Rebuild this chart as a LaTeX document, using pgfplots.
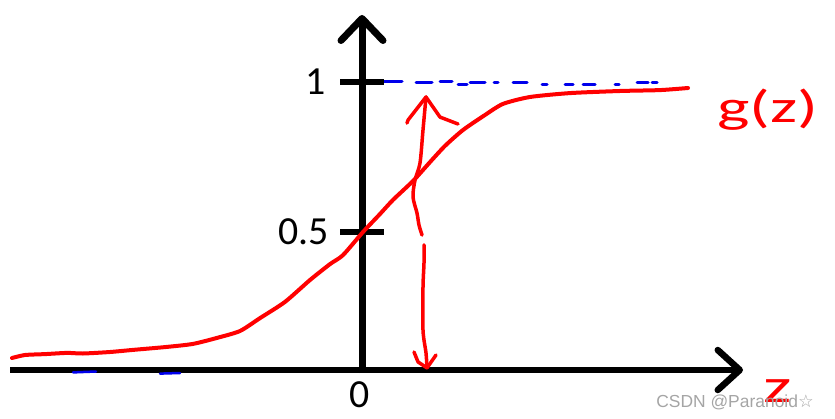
\documentclass[border=0pt]{standalone}
\usepackage{pgfplots}
\pgfplotsset{compat=1.18}
\usetikzlibrary{arrows.meta}
\usepackage{fontspec}
\setmainfont{Carlito}
\newfontfamily\wm{Liberation Sans}
\newfontfamily\sym{DejaVu Sans}
\definecolor{wmgray}{RGB}{165,165,165}
\definecolor{penred}{RGB}{255,0,0}
\definecolor{penblue}{RGB}{0,0,235}
\begin{document}
\begin{tikzpicture}
\begin{axis}[width=835bp, height=419bp, scale only axis,
  xmin=-7.24, xmax=9.46, ymin=-0.1233, ymax=1.2733,
  hide axis, clip=false]
\path (rel axis cs:0,0) rectangle (rel axis cs:1,1);
% blue dashes near y = 1
\addplot[penblue, line width=3bp, line cap=round, unbounded coords=jump] coordinates {
(0.44,1.0)(0.80,1.0)(0.9,nan)
(1.08,0.997)(1.40,0.997)(1.5,nan)
(1.56,1.0)(1.80,1.0)(1.85,nan)
(1.92,0.993)(2.10,0.993)(2.12,nan)
(2.16,0.997)(2.46,0.997)(2.5,nan)
(2.64,0.997)(2.72,0.997)(2.8,nan)
(3.02,0.997)(3.30,0.997)(3.4,nan)
(3.60,0.99)(3.70,0.99)(3.8,nan)
(4.06,0.993)(4.22,0.993)(4.3,nan)
(4.42,0.993)(4.66,0.993)(4.8,nan)
(5.06,0.993)(5.14,0.993)(5.3,nan)
(5.50,0.997)(5.72,0.997)(5.75,nan)
(5.80,0.997)(5.90,0.997)
};
% axes
\addplot[black, line width=6.5bp, line cap=butt, -{Straight Barb[length=22bp,width=40bp,round]}] coordinates {(-7.04,0.04) (7.62,0.04)};
\addplot[black, line width=7bp, line cap=butt, -{Straight Barb[length=22bp,width=42bp,round]}] coordinates {(0,0.03) (0,1.2233)};
% blue dashes near the z axis
\addplot[penblue, line width=2.5bp, line cap=round, unbounded coords=jump] coordinates {
(-5.78,0.032)(-5.32,0.035)(-5.0,nan)
(-4.04,0.028)(-3.64,0.030)
};
% ticks
\addplot[black, line width=6bp] coordinates {(-0.44,1.0) (0.44,1.0)};
\addplot[black, line width=6bp] coordinates {(-0.44,0.5) (0.44,0.5)};
% labels
\node[anchor=east, inner sep=0pt, font=\fontsize{40}{48}\selectfont] at (axis cs:-0.72,1.0) {1};
\node[anchor=east, inner sep=0pt, font=\fontsize{40}{48}\selectfont] at (axis cs:-0.66,0.5) {0.5};
\node[inner sep=0pt, font=\fontsize{40}{48}\selectfont] at (axis cs:-0.04,-0.043) {0};
% sigmoid curve
\addplot[penred, line width=4bp, smooth, tension=0.4, line cap=round] coordinates {
(-7.00,0.080)(-6.74,0.090)(-6.34,0.093)(-5.90,0.097)(-5.58,0.095)(-5.04,0.100)
(-4.58,0.107)(-3.90,0.117)(-3.38,0.127)(-2.90,0.147)(-2.44,0.170)(-2.04,0.213)
(-1.54,0.267)(-1.04,0.340)(-0.64,0.393)(-0.38,0.423)(0.02,0.500)(0.36,0.560)
(0.62,0.607)(1.02,0.670)(1.36,0.733)(1.66,0.787)(2.02,0.840)(2.46,0.890)
(2.82,0.927)(3.36,0.950)(4.16,0.963)(5.16,0.970)(5.96,0.973)(6.52,0.980)
};
% hand-drawn arrow, upper part
\addplot[penred, line width=3.5bp, line cap=round, line join=round] coordinates {
(0.90,0.863)(0.92,0.873)(1.28,0.950)(1.56,0.883)(1.92,0.860)};
\addplot[penred, line width=3.5bp, line cap=round, line join=round, smooth] coordinates {
(1.28,0.950)(1.22,0.840)(1.16,0.730)(1.06,0.673)(1.02,0.617)(1.10,0.563)(1.14,0.523)(1.20,0.490)};
% lower part
\addplot[penred, line width=3.5bp, line cap=round, line join=round, smooth] coordinates {
(1.24,0.457)(1.24,0.397)(1.22,0.317)(1.22,0.173)(1.28,0.097)(1.30,0.047)};
\addplot[penred, line width=3.5bp, line cap=round, line join=round] coordinates {
(1.04,0.100)(1.12,0.067)(1.30,0.047)(1.48,0.090)};
% g(z) and z
\node[penred, inner sep=0pt, xscale=1.5, font=\fontsize{46}{50}\selectfont] at (axis cs:8.12,0.907) {g(z)};
\node[penred, inner sep=0pt, xscale=1.5, font=\fontsize{48}{50}\selectfont] at (axis cs:8.32,-0.03) {z};
% watermark
\node[wmgray, inner sep=0pt, font=\fontsize{17.5}{19}\wm] at (axis cs:7.46,-0.067) {CSDN @Paranoid{\sym ☆}};
\end{axis}
\end{tikzpicture}
\end{document}
